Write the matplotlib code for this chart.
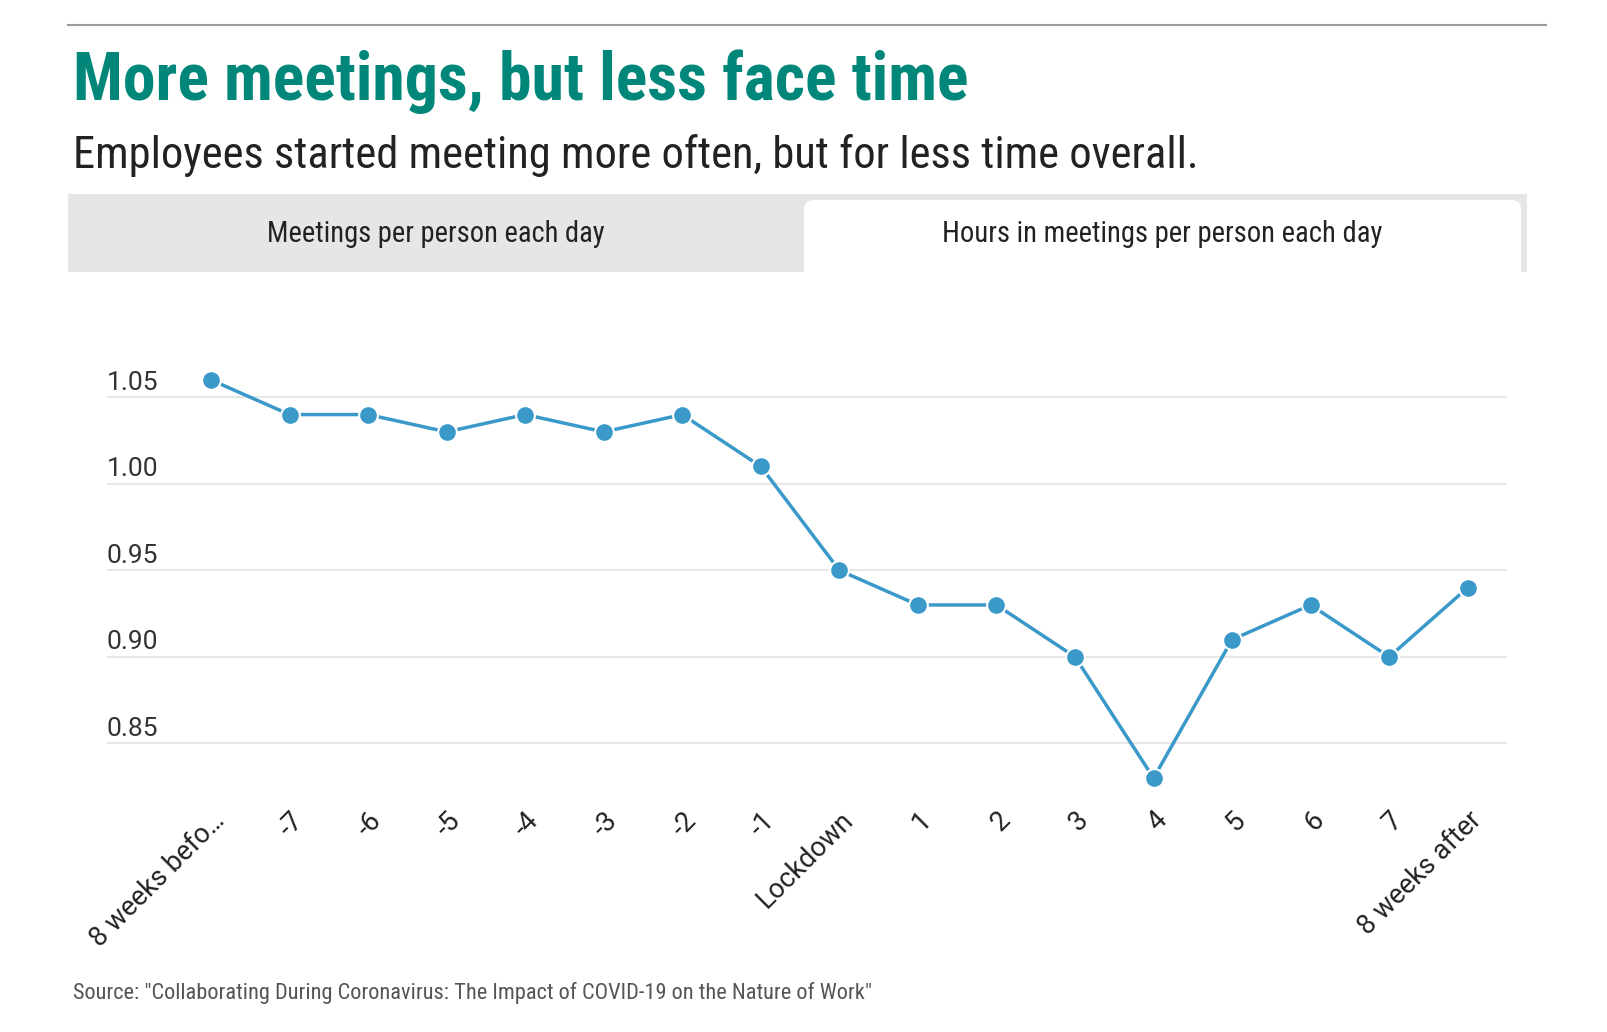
import matplotlib
matplotlib.use("Agg")
import matplotlib.pyplot as plt
from matplotlib import font_manager
from matplotlib.patches import Rectangle, FancyBboxPatch
from matplotlib.lines import Line2D

# data
weeks = ["8 weeks befo…", "-7", "-6", "-5", "-4", "-3", "-2", "-1", "Lockdown",
         "1", "2", "3", "4", "5", "6", "7", "8 weeks after"]
hours = [1.06, 1.04, 1.04, 1.03, 1.04, 1.03, 1.04, 1.01, 0.95,
         0.93, 0.93, 0.90, 0.83, 0.91, 0.93, 0.90, 0.94]
yticks = [0.85, 0.90, 0.95, 1.00, 1.05]
tabs = ["Meetings per person each day", "Hours in meetings per person each day"]
title = "More meetings, but less face time"
subtitle = "Employees started meeting more often, but for less time overall."
source = 'Source: "Collaborating During Coronavirus: The Impact of COVID-19 on the Nature of Work"'

# pick a condensed face if there is one
have = set(f.name for f in font_manager.fontManager.ttflist)
cond = "DejaVu Sans"
for name in ["Roboto Condensed", "Fira Sans Condensed", "Barlow Semi Condensed",
             "IBM Plex Sans Condensed", "Archivo Narrow", "PT Sans Narrow",
             "Encode Sans Condensed", "Liberation Sans Narrow"]:
    if name in have:
        cond = name
        break
narrow = [cond, "DejaVu Sans"]
regular = ["Roboto", "DejaVu Sans"]

W, H = 1608, 1032
blue = "#3a99c9"
teal = "#00877a"

fig = plt.figure(figsize=(W / 100, H / 100), dpi=100)
renderer = fig.canvas.get_renderer()

def fx(x):
    return x / W

def fy(y):
    return 1 - y / H

def fit(t, width):
    # shrink/grow font so the text spans the same width as in the reference
    w = t.get_window_extent(renderer).width
    t.set_fontsize(t.get_fontsize() * width / w)

# top rule
fig.add_artist(Line2D([fx(68), fx(1546)], [fy(25), fy(25)], color="#9a9a9a", lw=1.5))

t = fig.text(fx(73), fy(100), title, family=narrow, fontsize=44,
             fontweight="bold", color=teal, va="baseline")
fit(t, 896)
t = fig.text(fx(73), fy(168), subtitle, family=narrow, fontsize=28,
             color="#222222", va="baseline")
fit(t, 1121)

# tab strip, right tab selected (white)
fig.add_artist(Rectangle((fx(68), fy(272)), fx(1527) - fx(68), fy(194) - fy(272),
                         facecolor="#e6e6e6", edgecolor="none"))
fig.add_artist(FancyBboxPatch((fx(804), fy(292)), fx(1521) - fx(804), fy(200) - fy(292),
                              boxstyle="round,pad=0,rounding_size=0.006",
                              facecolor="white", edgecolor="none", mutation_aspect=W / H))
t = fig.text(fx(436), fy(234), tabs[0], family=narrow, fontsize=18, color="#222222",
             ha="center", va="center")
fit(t, 338)
t = fig.text(fx(1162), fy(234), tabs[1], family=narrow, fontsize=18, color="#222222",
             ha="center", va="center")
fit(t, 440)

ax = fig.add_axes([fx(106.6), fy(804), fx(1507) - fx(106.6), fy(354) - fy(804)])
x = list(range(len(weeks)))
ax.plot(x, hours, color=blue, lw=2.5, marker="o", markersize=13.5,
        markerfacecolor=blue, markeredgecolor="white", markeredgewidth=1.5, zorder=3,
        clip_on=False)
ax.set_xlim(-1.33, 16.5)
ax.set_ylim(0.815, 1.075)

for v in yticks:
    ax.axhline(v, color="#e3e3e3", lw=1.2, zorder=1)
    ax.text(0, v + 0.0015, f"{v:.2f}", transform=ax.get_yaxis_transform(), fontsize=19,
            color="#333333", va="bottom", ha="left", family=regular)
ax.set_yticks([])
ax.set_xticks(x)
ax.set_xticklabels(weeks, rotation=45, ha="right", rotation_mode="anchor",
                   fontsize=19.5, color="#222222", family=regular)
ax.tick_params(axis="x", length=0, pad=2)
for s in ax.spines.values():
    s.set_visible(False)

t = fig.text(fx(73), fy(999), source, family=narrow, fontsize=13.5,
             color="#555555", va="baseline")
fit(t, 800)

fig.savefig("out.png", dpi=100)
